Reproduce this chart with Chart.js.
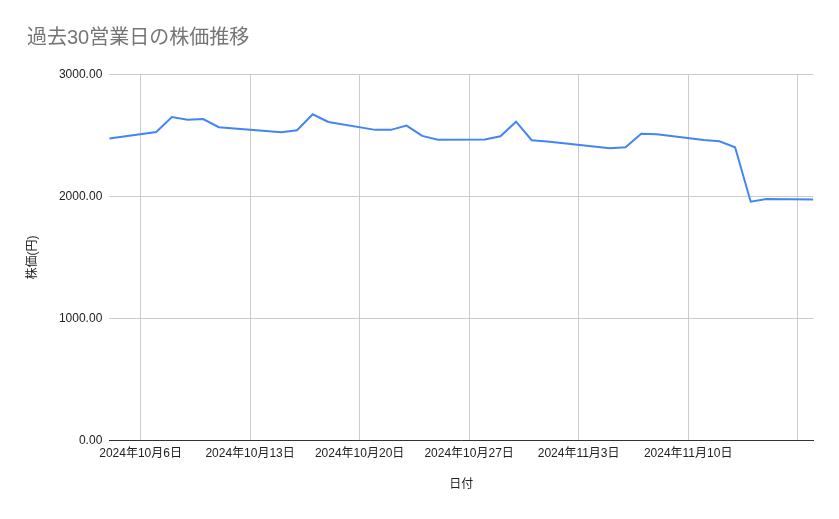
<!DOCTYPE html>
<html>
<head>
<meta charset="utf-8">
<script src="https://cdn.jsdelivr.net/npm/chart.js@4.4.1/dist/chart.umd.min.js"></script>
<style>
  html, body { margin: 0; padding: 0; background: #ffffff; }
  #wrap { width: 839px; height: 519px; }
</style>
</head>
<body>
<div id="wrap"><canvas id="c" width="839" height="519"></canvas></div>
<script>
// ---- data ----
const startDate = '2024-10-04';
const endDate = '2024-11-18';
const dates = [
  '2024-10-04', '2024-10-07', '2024-10-08', '2024-10-09', '2024-10-10', '2024-10-11',
  '2024-10-15', '2024-10-16', '2024-10-17', '2024-10-18',
  '2024-10-21', '2024-10-22', '2024-10-23', '2024-10-24', '2024-10-25',
  '2024-10-28', '2024-10-29', '2024-10-30', '2024-10-31', '2024-11-01',
  '2024-11-05', '2024-11-06', '2024-11-07', '2024-11-08',
  '2024-11-11', '2024-11-12', '2024-11-13', '2024-11-14', '2024-11-15',
  '2024-11-18'
];
const prices = [
  2474, 2528, 2650, 2627, 2634, 2567,
  2526, 2542, 2673, 2610,
  2545, 2545, 2580, 2496, 2464,
  2467, 2492, 2612, 2460, 2449,
  2395, 2403, 2514, 2509,
  2463, 2452, 2403, 1957, 1979,
  1974
];
const tickDates = ['2024-10-06', '2024-10-13', '2024-10-20', '2024-10-27', '2024-11-03', '2024-11-10', '2024-11-17'];
const tickLabels = ['2024年10月6日', '2024年10月13日', '2024年10月20日', '2024年10月27日', '2024年11月3日', '2024年11月10日', ''];
const yTicks = [0, 1000, 2000, 3000];
const titleText = '過去30営業日の株価推移';
const xTitle = '日付';
const yTitle = '株価(円)';

// ---- helpers ----
const DAY = 86400000;
const dayIndex = s => (Date.parse(s + 'T00:00:00Z') - Date.parse(startDate + 'T00:00:00Z')) / DAY;
const points = dates.map((d, i) => ({ x: dayIndex(d), y: prices[i] }));
const tickVals = tickDates.map(dayIndex);

Chart.defaults.font.family = "'Liberation Sans', Arial, 'Noto Sans CJK JP', sans-serif";
Chart.defaults.font.size = 12;
Chart.defaults.color = '#222222';

new Chart(document.getElementById('c'), {
  type: 'line',
  data: {
    datasets: [{
      label: yTitle,
      data: points,
      borderColor: '#4285F4',
      backgroundColor: '#4285F4',
      borderWidth: 2,
      pointRadius: 0,
      pointHoverRadius: 0,
      tension: 0,
      fill: false
    }]
  },
  options: {
    responsive: false,
    animation: false,
    events: [],
    layout: { padding: { left: 27, right: 25.7, top: 0, bottom: 0 } },
    plugins: {
      legend: { display: false },
      tooltip: { enabled: false },
      title: {
        display: true,
        text: titleText,
        align: 'start',
        color: '#757575',
        font: { size: 20, weight: 'normal' },
        padding: { top: 26.8, bottom: 23.5 }
      }
    },
    scales: {
      x: {
        type: 'linear',
        min: dayIndex(startDate),
        max: dayIndex(endDate),
        afterBuildTicks: s => { s.ticks = tickVals.map(v => ({ value: v })); },
        afterFit: s => { s.height = 519 - 440.7; },
        ticks: {
          autoSkip: false,
          maxRotation: 0,
          padding: 6,
          color: '#222222',
          callback: v => { const i = tickVals.indexOf(v); return i >= 0 ? tickLabels[i] : ''; }
        },
        grid: { color: '#cccccc', drawTicks: false, lineWidth: 1 },
        border: { display: true, color: '#333333', width: 1 },
        title: {
          display: true,
          text: xTitle,
          color: '#222222',
          font: { size: 12 },
          padding: { top: 0, bottom: 26.8 }
        }
      },
      y: {
        type: 'linear',
        min: 0,
        max: 3000,
        afterBuildTicks: s => { s.ticks = yTicks.map(v => ({ value: v })); },
        afterFit: s => { s.width = 109.3 - 27; },
        ticks: {
          padding: 7,
          color: '#222222',
          callback: v => Number(v).toFixed(2)
        },
        grid: { color: '#cccccc', drawTicks: false, lineWidth: 1 },
        border: { display: false },
        title: {
          display: true,
          text: yTitle,
          color: '#222222',
          font: { size: 12, lineHeight: 1 },
          padding: { top: 0, bottom: 0 }
        }
      }
    }
  }
});
</script>
</body>
</html>
